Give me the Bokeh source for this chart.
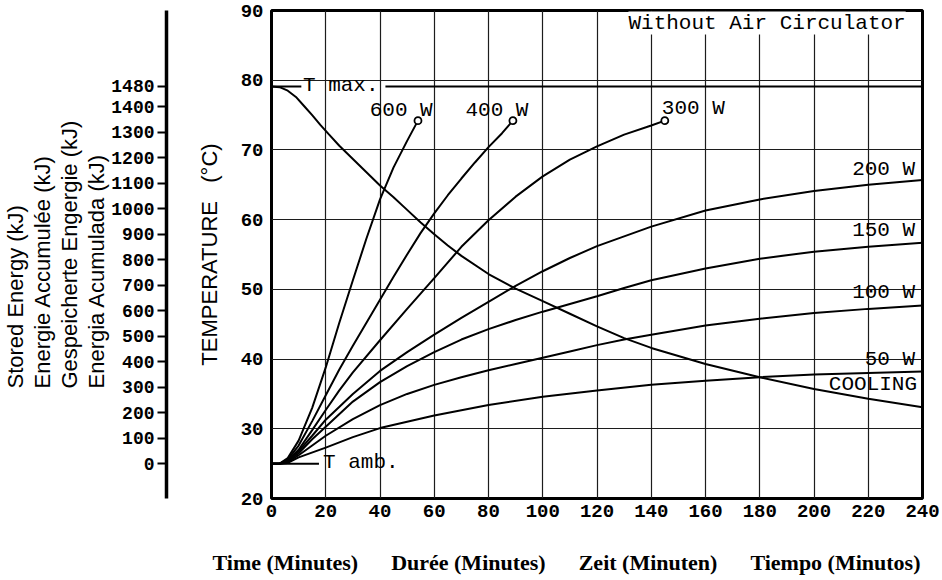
import math
from bokeh.plotting import figure
from bokeh.models import Range1d, LinearAxis, FixedTicker, Label, Title
from bokeh.embed import file_html
from bokeh.resources import INLINE

# ---------------- data ----------------
x_ticks = [0, 20, 40, 60, 80, 100, 120, 140, 160, 180, 200, 220, 240]
y_ticks = [20, 30, 40, 50, 60, 70, 80, 90]
e_ticks = [0, 100, 200, 300, 400, 500, 600, 700, 800, 900, 1000, 1100, 1200, 1300, 1400, 1480]

T_AMB = 25.0
T_MAX = 79.1
E_MAX = 1480

t_600 = [0, 3, 6, 10, 15, 20, 25, 30, 35, 40, 45, 50, 54]
T_600 = [25, 25, 25.8, 28.3, 33.0, 38.8, 45.2, 51.3, 57.3, 62.9, 67.5, 71.3, 74.2]

t_400 = [0, 3, 6, 10, 15, 20, 25, 30, 35, 40, 45, 50, 55, 60, 65, 70, 75, 80, 85, 89]
T_400 = [25, 25, 25.6, 27.6, 31.1, 34.8, 38.5, 41.9, 45.2, 48.5, 51.8, 55.0, 58.1, 60.9,
         63.5, 65.9, 68.2, 70.4, 72.4, 74.2]

t_300 = [0, 3, 6, 10, 15, 20, 25, 30, 40, 50, 60, 70, 80, 90, 100, 110, 120, 130, 140, 145]
T_300 = [25, 25, 25.5, 27.0, 29.8, 32.7, 35.5, 38.1, 42.7, 47.2, 51.6, 56.1, 59.9, 63.3,
         66.2, 68.6, 70.5, 72.2, 73.5, 74.2]

t_200 = [0, 3, 6, 10, 15, 20, 30, 40, 50, 60, 70, 80, 90, 100, 110, 120, 140, 160, 180, 200, 220, 240]
T_200 = [25, 25, 25.4, 26.8, 29.0, 31.3, 35.0, 38.3, 41.0, 43.5, 45.9, 48.2, 50.5, 52.6,
         54.5, 56.2, 59.0, 61.3, 62.9, 64.1, 65.0, 65.7]

t_150 = [0, 3, 6, 10, 15, 20, 30, 40, 50, 60, 70, 80, 90, 100, 110, 120, 130, 140, 160, 180, 200, 220, 240]
T_150 = [25, 25, 25.3, 26.5, 28.5, 30.3, 33.9, 36.7, 39.0, 41.0, 42.8, 44.3, 45.6, 46.8,
         47.9, 49.0, 50.2, 51.3, 53.0, 54.4, 55.4, 56.1, 56.7]

t_100 = [0, 3, 6, 10, 15, 20, 30, 40, 50, 60, 70, 80, 90, 100, 110, 120, 130, 140, 160, 180, 200, 220, 240]
T_100 = [25, 25, 25.2, 26.2, 27.6, 29.0, 31.4, 33.4, 35.0, 36.3, 37.4, 38.4, 39.3, 40.2,
         41.1, 42.0, 42.8, 43.5, 44.8, 45.8, 46.6, 47.2, 47.7]

t_50 = [0, 3, 6, 10, 20, 30, 40, 60, 80, 100, 120, 140, 160, 180, 200, 220, 240]
T_50 = [25, 25, 25.1, 25.9, 27.3, 28.8, 30.1, 31.9, 33.4, 34.6, 35.5, 36.3, 36.9, 37.4,
        37.8, 38.0, 38.2]

t_cool = [0, 3, 6, 9, 12, 15, 18, 21, 25, 30, 35, 40, 45, 50, 55, 60, 65, 70, 80, 90,
          100, 110, 120, 130, 140, 160, 180, 200, 220, 240]
T_cool = [79.1, 79.0, 78.5, 77.6, 76.3, 75.0, 73.6, 72.3, 70.6, 68.7, 66.8, 64.9, 63.2, 61.4,
          59.6, 57.9, 56.3, 54.8, 52.2, 50.1, 48.3, 46.5, 44.7, 43.0, 41.6, 39.3, 37.4, 35.7,
          34.3, 33.1]

heat_series = [(t_600, T_600), (t_400, T_400), (t_300, T_300), (t_200, T_200),
               (t_150, T_150), (t_100, T_100), (t_50, T_50)]

energy_label_lines = ["Stored Energy (kJ)", "Energie Accumulée (kJ)",
                      "Gespeicherte Engergie (kJ)", "Energia Acumulada (kJ)"]
time_labels = ["Time (Minutes)", "Durée (Minutes)", "Zeit (Minuten)", "Tiempo (Minutos)"]


def to_energy(T):
    return (T - T_AMB) * E_MAX / (T_MAX - T_AMB)


NBSP = "\u00a0"

# ---------------- figure ----------------
MONO = "Liberation Mono"
SANS = "Liberation Sans"

p = figure(width=942, height=580, x_range=Range1d(0, 240), y_range=Range1d(20, 90),
           output_backend="svg", toolbar_location=None,
           min_border_left=270, min_border_right=20, min_border_top=10, min_border_bottom=82)
p.extra_y_ranges = {"energy": Range1d(to_energy(20), to_energy(90))}
p.background_fill_color = "white"
p.border_fill_color = "white"
p.outline_line_color = "black"
p.outline_line_width = 3

# grid
for g in (p.xgrid, p.ygrid):
    g.grid_line_color = "#1c1c1c"
    g.grid_line_width = 1.2
p.xgrid.ticker = FixedTicker(ticks=x_ticks)
p.ygrid.ticker = FixedTicker(ticks=y_ticks)

# x axis
xa = p.xaxis[0]
xa.ticker = FixedTicker(ticks=x_ticks)
xa.axis_line_color = None
xa.major_tick_line_color = None
xa.minor_tick_line_color = None
xa.major_tick_out = 0
xa.major_tick_in = 0
xa.major_label_standoff = 6
xa.major_label_text_font = MONO
xa.major_label_text_font_style = "bold"
xa.major_label_text_font_size = "19px"
xa.major_label_text_color = "black"

# invisible spacer under the x axis, then the four-language time caption
xspacer = LinearAxis(ticker=FixedTicker(ticks=[120]), axis_line_color=None,
                     major_tick_line_color=None, minor_tick_line_color=None,
                     major_tick_out=28, major_tick_in=0, minor_tick_out=0,
                     major_label_standoff=0, major_label_overrides={120: ""},
                     major_label_text_font_size="1px")
p.add_layout(xspacer, "below")
p.add_layout(Title(text=(NBSP * 6).join(time_labels), align="right", offset=2, standoff=0,
                   text_font="Liberation Serif", text_font_size="22px",
                   text_font_style="bold", text_color="black"), "below")

# temperature axis
ya = p.yaxis[0]
ya.ticker = FixedTicker(ticks=y_ticks)
ya.axis_line_color = None
ya.major_tick_line_color = None
ya.minor_tick_line_color = None
ya.major_tick_out = 0
ya.major_tick_in = 0
ya.major_label_standoff = 8
ya.major_label_text_font = MONO
ya.major_label_text_font_style = "bold"
ya.major_label_text_font_size = "19px"
ya.major_label_text_color = "black"
ya.axis_label = "TEMPERATURE" + NBSP * 3 + "(°C)"
ya.axis_label_text_font = SANS
ya.axis_label_text_font_style = "normal"
ya.axis_label_text_font_size = "22px"
ya.axis_label_text_color = "black"
ya.axis_label_standoff = 16

# invisible spacer between temperature axis and energy axis
spacer = LinearAxis(ticker=FixedTicker(ticks=[50]), axis_line_color=None,
                    major_tick_line_color=None, minor_tick_line_color=None,
                    major_tick_out=27, major_tick_in=0, minor_tick_out=0,
                    major_label_standoff=0, major_label_overrides={50: ""})
p.add_layout(spacer, "left")

# stored energy axis
ea = LinearAxis(y_range_name="energy", ticker=FixedTicker(ticks=e_ticks))
ea.axis_line_color = "black"
ea.axis_line_width = 3.5
ea.major_tick_line_color = "black"
ea.major_tick_line_width = 2
ea.major_tick_out = 9
ea.major_tick_in = 0
ea.minor_tick_line_color = None
ea.major_label_standoff = 3
ea.major_label_text_font = MONO
ea.major_label_text_font_style = "bold"
ea.major_label_text_font_size = "18px"
ea.major_label_text_color = "black"
p.add_layout(ea, "left")

# four-language energy title (outermost line added last)
for txt in reversed(energy_label_lines):
    p.add_layout(Title(text=txt, align="left", offset=110, standoff=0,
                       text_font=SANS, text_font_size="22px", text_font_style="normal",
                       text_color="black"), "left")

# reference lines (T max / T amb) with gaps for their labels
p.segment(x0=[0, 42], y0=[T_MAX, T_MAX], x1=[11, 240], y1=[T_MAX, T_MAX],
          line_color="black", line_width=2)
p.segment(x0=[0], y0=[T_AMB], x1=[17.5], y1=[T_AMB], line_color="black", line_width=2)

# curves
for tt, TT in heat_series:
    p.line(tt, TT, line_color="black", line_width=2)
p.line(t_cool, T_cool, line_color="black", line_width=2)

# end markers of the curves that stop at 74 °C
p.scatter(x=[t_600[-1], t_400[-1], t_300[-1]], y=[T_600[-1], T_400[-1], T_300[-1]],
          marker="circle", size=7, fill_color="white", line_color="black", line_width=1.8)

# in-plot labels
def mono_label(x, y, text, align):
    p.add_layout(Label(x=x, y=y, text=text, text_font=MONO, text_font_size="21px",
                       text_color="black", text_align=align, text_baseline="middle"))

mono_label(36.2, 75.6, "600 W", "left")
mono_label(71.5, 75.6, "400 W", "left")
mono_label(143.9, 75.9, "300 W", "left")
mono_label(237.3, 67.2, "200 W", "right")
mono_label(237.3, 58.5, "150 W", "right")
mono_label(237.3, 49.6, "100 W", "right")
mono_label(237.3, 40.0, "50 W", "right")
mono_label(238.0, 36.3, "COOLING", "right")
mono_label(11.6, 79.2, "T max.", "left")
mono_label(19.0, 25.1, "T amb.", "left")

p.add_layout(Label(x=182.7, y=88.2, text="Without Air Circulator", text_font=MONO,
                   text_font_size="21px", text_color="black", text_align="center",
                   text_baseline="middle", background_fill_color="white"))

open("out.html", "w").write(file_html(p, INLINE))
